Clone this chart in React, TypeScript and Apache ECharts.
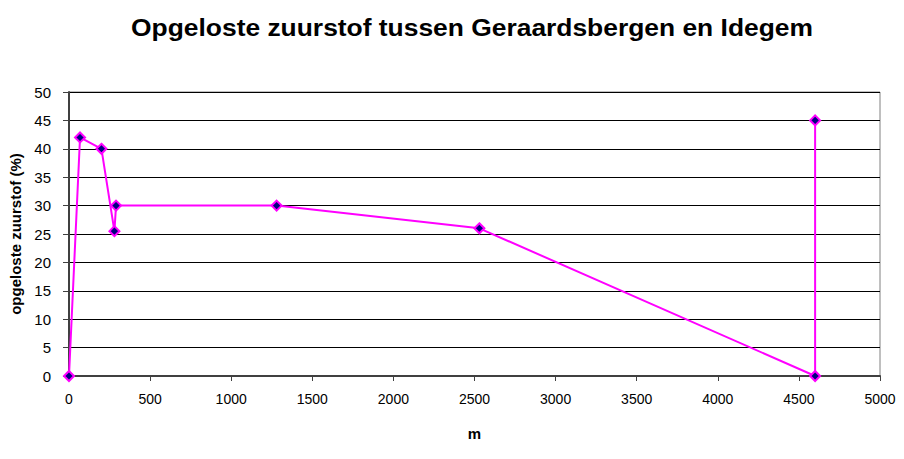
import React, { useEffect, useRef } from "react";
import * as echarts from "echarts";

const distances = [0, 68, 200, 280, 290, 1280, 2530, 4600, 4600];
const oxygen = [0, 42, 40, 25.5, 30, 30, 26, 0, 45];
const titleText = "Opgeloste zuurstof tussen Geraardsbergen en Idegem";
const xName = "m";
const yName = "opgeloste zuurstof (%)";

export default function App() {
  const ref = useRef<HTMLDivElement>(null);
  useEffect(() => {
    if (!ref.current) return;
    const chart = echarts.init(ref.current, undefined, { renderer: "svg" });
    const font = "'Liberation Sans', Arial, sans-serif";
    chart.setOption({
      animation: false,
      backgroundColor: "#ffffff",
      graphic: [
        {
          type: "text",
          x: 472,
          y: 27,
          scaleX: 1.1,
          style: {
            text: titleText,
            fontFamily: font,
            fontSize: 24,
            fontWeight: "bold",
            fill: "#000",
            align: "center",
            verticalAlign: "middle",
          },
        },
      ],
      grid: { left: 69, right: 24, top: 92, bottom: 83, show: true, borderColor: "#808080", borderWidth: 1 },
      xAxis: {
        type: "value",
        min: 0,
        max: 5000,
        interval: 500,
        name: xName,
        nameLocation: "middle",
        nameGap: 50,
        nameTextStyle: { fontFamily: font, fontSize: 15, fontWeight: "bold", color: "#000" },
        axisLine: { onZero: false, lineStyle: { color: "#404040", width: 2 } },
        axisTick: { show: true, length: 5, lineStyle: { color: "#404040" } },
        axisLabel: { fontFamily: font, fontSize: 14, color: "#000", margin: 16, formatter: (v: number) => String(v) },
        splitLine: { show: false },
      },
      yAxis: {
        type: "value",
        min: 0,
        max: 50,
        interval: 5,
        name: yName,
        nameLocation: "middle",
        nameGap: 44,
        nameTextStyle: { fontFamily: font, fontSize: 15, fontWeight: "bold", color: "#000" },
        axisLine: { show: true, lineStyle: { color: "#404040", width: 2 } },
        axisTick: { show: true, length: 6, lineStyle: { color: "#404040" } },
        axisLabel: { fontFamily: font, fontSize: 15, color: "#000", margin: 18, formatter: (v: number) => String(v) },
        splitLine: { show: true, lineStyle: { color: "#000", width: 1 } },
      },
      series: [
        {
          type: "line",
          data: distances.map((d, i) => [d, oxygen[i]]),
          symbol: "diamond",
          symbolSize: 10,
          lineStyle: { color: "#ff00ff", width: 2 },
          itemStyle: { color: "#000080", borderColor: "#ff00ff", borderWidth: 2 },
          clip: false,
        },
      ],
    });
    return () => chart.dispose();
  }, []);
  return <div ref={ref} style={{ width: 904, height: 459, position: "absolute", left: 0, top: 0 }} />;
}
